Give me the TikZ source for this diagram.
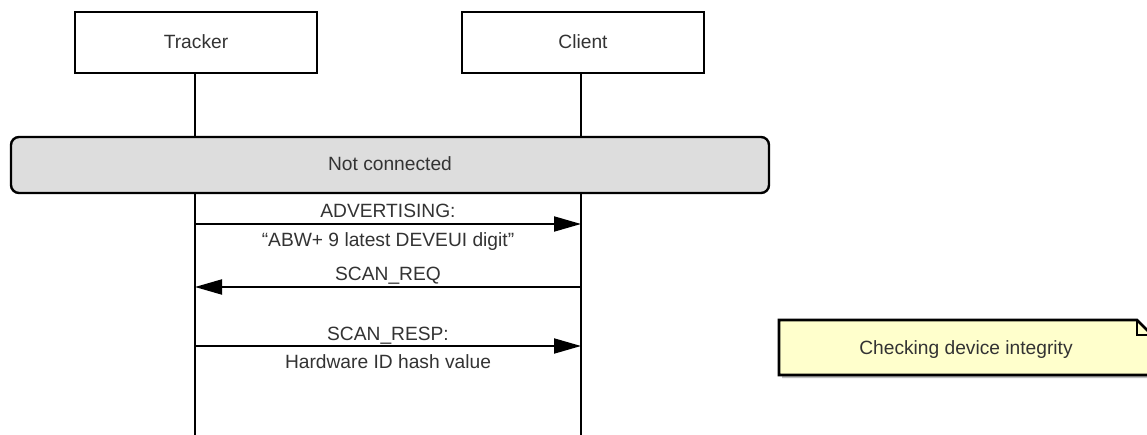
\documentclass[tikz,border=0pt]{standalone}
\usepackage{fontspec}
\setmainfont{Liberation Sans}
\usetikzlibrary{arrows.meta}
\definecolor{txt}{HTML}{333333}
\definecolor{stategray}{HTML}{DDDDDD}
\definecolor{noteyellow}{HTML}{FFFFCC}
\begin{document}
\begin{tikzpicture}[x=1pt,y=-1pt,
  every node/.style={font=\fontsize{19.2}{22}\selectfont, text=txt, inner sep=0pt},
  actor/.style={draw=black, line width=2.2pt, fill=white, minimum width=242pt, minimum height=61pt},
  statebox/.style={draw=black, line width=2.4pt, fill=stategray, rounded corners=8pt, minimum width=758pt, minimum height=56pt},
  lifeline/.style={draw=black, line width=2pt},
  msg/.style={draw=black, line width=2pt, -{Triangle[length=27pt,width=15pt]}},
  lbl/.style={anchor=base}
]
\useasboundingbox (0,0) rectangle (1147,435);
\clip (0,0) rectangle (1147,435);
\fill[white] (0,0) rectangle (1147,435);

% participants
\node[actor] (tracker) at (196,42.5) {};
\node[lbl] at (196,49) {Tracker};
\node[actor] (client) at (583,42.5) {};
\node[lbl] at (583,49) {Client};

% lifeline anchors
\coordinate (tA) at (195,137);
\coordinate (cA) at (581,137);
\coordinate (tB) at (195,193);
\coordinate (cB) at (581,193);
\coordinate (tEnd) at (195,440);
\coordinate (cEnd) at (581,440);

\draw[lifeline] (tracker.south -| tA) -- (tA);
\draw[lifeline] (client.south -| cA) -- (cA);
\draw[lifeline] (tB) -- (tEnd);
\draw[lifeline] (cB) -- (cEnd);

% state bar
\node[statebox] (state) at (390,165) {};
\node[lbl] at (390,171) {Not connected};

% messages
\coordinate (t1) at (195,224);  \coordinate (c1) at (581,224);
\coordinate (t2) at (195,287);  \coordinate (c2) at (581,287);
\coordinate (t3) at (195,346);  \coordinate (c3) at (581,346);

\draw[msg] (t1) -- (c1);
\node[lbl] at (388,218) {ADVERTISING:};
\node[lbl] at (388,247) {“ABW+ 9 latest DEVEUI digit”};

\draw[msg] (c2) -- (t2);
\node[lbl] at (388,280) {SCAN\_REQ};

\draw[msg] (t3) -- (c3);
\node[lbl] at (388,340) {SCAN\_RESP:};
\node[lbl] at (388,368) {Hardware ID hash value};

% note
\fill[black!25] (782,323) -- (1140,323) -- (1155,338) -- (1155,378) -- (782,378) -- cycle;
\draw[line width=2.6pt, fill=noteyellow, line join=miter]
  (779,320) -- (1137,320) -- (1152,335) -- (1152,375) -- (779,375) -- cycle;
\draw[line width=2.6pt] (1137,320) -- (1137,335) -- (1152,335);
\node[lbl] (note) at (966,354) {Checking device integrity};
\end{tikzpicture}
\end{document}
